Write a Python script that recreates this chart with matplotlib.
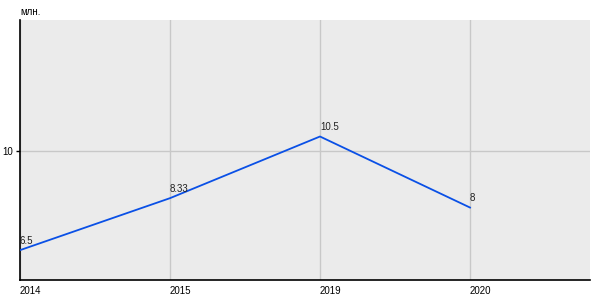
import matplotlib
matplotlib.use("Agg")
import matplotlib.pyplot as plt

plt.rcParams["font.family"] = ["Liberation Sans", "DejaVu Sans"]

# данные
years = ["2014", "2015", "2019", "2020"]
values = [6.5, 8.33, 10.5, 8]
value_labels = ["6.5", "8.33", "10.5", "8"]
y_ticks = [10]

fig = plt.figure(figsize=(6, 3), dpi=100)
ax = fig.add_axes([20 / 600, 20 / 300, 570 / 600, 260 / 300])
ax.set_facecolor("#ebebeb")

xs = list(range(len(years)))
ax.plot(xs, values, color="#0a50e6", linewidth=1.3, zorder=3)

# подписи значений
for x, v, lab in zip(xs, values, value_labels):
    ax.annotate(lab, (x, v), xytext=(0, 3), textcoords="offset points",
                ha="left", va="bottom", fontsize=7, color="#222222")

ax.set_xlim(0, 3.8)
ax.set_ylim(5.45, 14.6)
ax.set_xticks(xs)
ax.set_xticklabels(years, ha="left")
ax.set_yticks(y_ticks)
ax.set_yticklabels([str(t) for t in y_ticks])

ax.grid(True, color="#c8c8c8", linewidth=1)
ax.set_axisbelow(True)
ax.tick_params(axis="x", length=0, labelsize=7, pad=4)
ax.tick_params(axis="y", length=3, width=1, labelsize=7, pad=2)

for side in ["top", "right"]:
    ax.spines[side].set_visible(False)
for side in ["left", "bottom"]:
    ax.spines[side].set_color("black")
    ax.spines[side].set_linewidth(1.2)

fig.text(20 / 600, 1 - 12 / 300, "млн.", fontsize=7, ha="left", va="center")

fig.savefig("out.png", dpi=100)
